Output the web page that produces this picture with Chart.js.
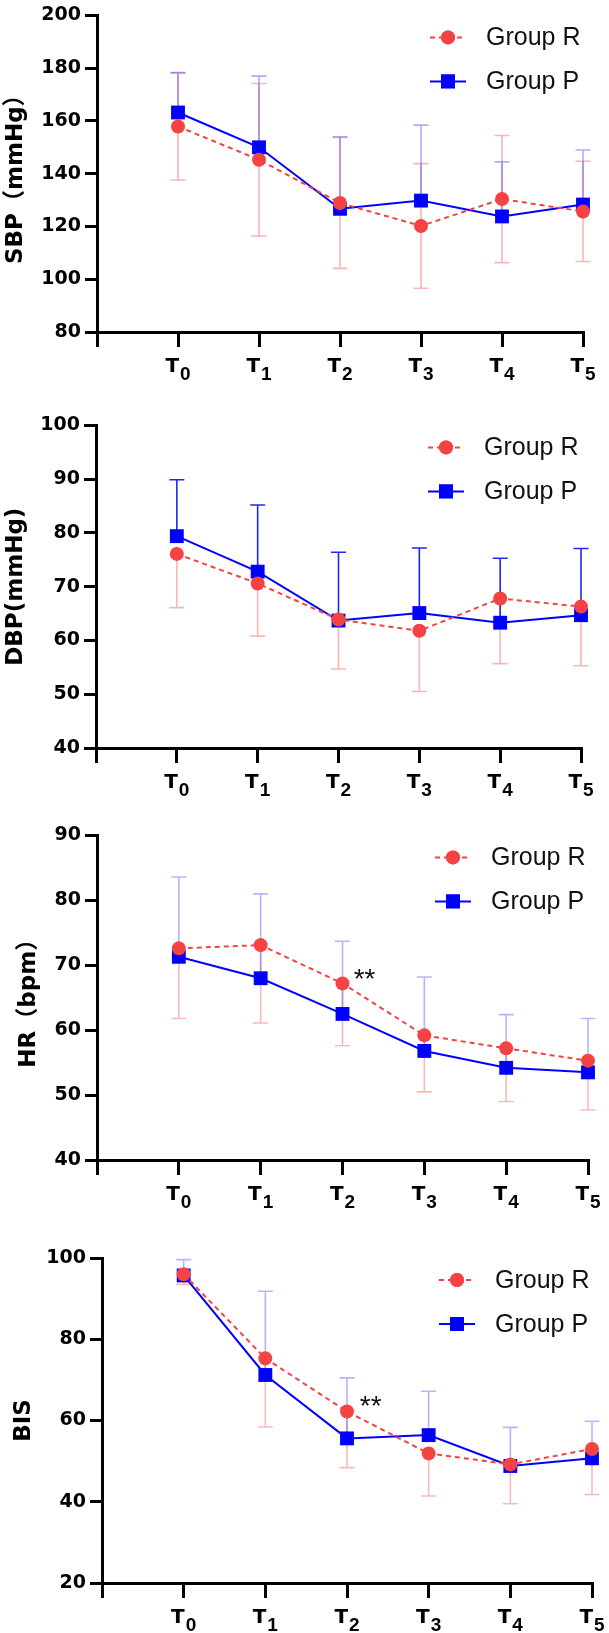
<!DOCTYPE html>
<html>
<head>
<meta charset="utf-8">
<script src="https://cdn.jsdelivr.net/npm/chart.js@4.4.0/dist/chart.umd.min.js"></script>
<style>
html,body{margin:0;padding:0;background:#fff;width:609px;height:1633px;overflow:hidden;}
.p{position:absolute;left:0;width:609px;}
canvas{display:block;}
</style>
</head>
<body>
<div class="p" style="top:0px"><canvas id="c0" width="609" height="410"></canvas></div>
<div class="p" style="top:410px"><canvas id="c1" width="609" height="410"></canvas></div>
<div class="p" style="top:820px"><canvas id="c2" width="609" height="410"></canvas></div>
<div class="p" style="top:1230px"><canvas id="c3" width="609" height="403"></canvas></div>
<script>
// ---------------- data ----------------
const timeLabels = ['T0', 'T1', 'T2', 'T3', 'T4', 'T5'];
const seriesNames = ['Group R', 'Group P'];

const sbpR   = [157.9, 145.3, 128.9, 120.2, 130.4, 125.7];
const sbpRsd = [20.3, 28.9, 24.8, 23.6, 24.1, 19.0];
const sbpP   = [163.2, 150.0, 126.7, 129.8, 123.8, 128.3];
const sbpPsd = [15.1, 27.0, 27.3, 28.6, 20.7, 20.7];

const dbpR   = [76.1, 70.6, 63.9, 61.8, 67.8, 66.3];
const dbpRsd = [10.0, 9.8, 9.2, 11.3, 12.1, 11.0];
const dbpP   = [79.4, 72.8, 63.7, 65.1, 63.3, 64.7];
const dbpPsd = [10.5, 12.4, 12.7, 12.1, 12.0, 12.4];

const hrR   = [72.6, 73.1, 67.2, 59.2, 57.2, 55.3];
const hrRsd = [10.8, 12.0, 9.6, 8.7, 8.2, 7.6];
const hrP   = [71.3, 68.0, 62.5, 56.8, 54.2, 53.5];
const hrPsd = [12.3, 13.0, 11.2, 11.4, 8.2, 8.3];

const bisR   = [96.0, 75.3, 62.2, 51.9, 49.2, 53.0];
const bisRsd = [2.5, 16.9, 13.8, 10.5, 9.7, 11.2];
const bisP   = [95.7, 71.2, 55.6, 56.4, 48.8, 50.7];
const bisPsd = [3.9, 20.6, 14.9, 10.8, 9.5, 9.1];

const yTitles = ['SBP（mmHg）', 'DBP(mmHg)', 'HR（bpm）', 'BIS'];
const yMins  = [80, 40, 40, 20];
const yMaxs  = [200, 100, 90, 100];
const ySteps = [20, 10, 10, 20];

// significance marks: panel index, x position (time index), y value
const markPanel = [2, 3];
const markX = [2.27, 2.29];
const markY = [68.8, 65.0];
const markText = ['**', '**'];

// ---------------- style ----------------
const FONT = "'Liberation Sans', Arial, 'Noto Sans CJK SC', sans-serif";
const BOLDFONT = "'DejaVu Sans', 'Noto Sans CJK SC', sans-serif";
const RED = 'rgb(245,66,66)';
const BLUE = 'rgb(0,0,255)';

const panelStyle = [
  {padTop:10, xH:78, yW:97,  padRight:26, titlePad:2,  rDir:'both', pDir:'up', rErr:'rgba(245,90,90,0.45)', pErr:'rgba(70,70,255,0.45)'},
  {padTop:15, xH:72, yW:96,  padRight:28, titlePad:2,  rDir:'down', pDir:'up', rErr:'rgba(245,90,90,0.45)', pErr:'rgba(25,25,240,0.95)'},
  {padTop:14, xH:70, yW:97,  padRight:21, titlePad:15, rDir:'down', pDir:'up', rErr:'rgba(245,90,90,0.42)', pErr:'rgba(70,70,255,0.40)'},
  {padTop:28, xH:50, yW:102, padRight:17, titlePad:10, rDir:'down', pDir:'up', rErr:'rgba(245,90,90,0.42)', pErr:'rgba(70,70,255,0.40)'}
];

const panelData = [
  [sbpR, sbpRsd, sbpP, sbpPsd],
  [dbpR, dbpRsd, dbpP, dbpPsd],
  [hrR, hrRsd, hrP, hrPsd],
  [bisR, bisRsd, bisP, bisPsd]
];

// ---------------- plugins ----------------
const errorBarPlugin = {
  id: 'errorBars',
  beforeDatasetsDraw(chart) {
    const ctx = chart.ctx, xs = chart.scales.x, ys = chart.scales.y;
    chart.data.datasets.forEach((ds) => {
      const e = ds._err;
      ctx.save();
      ctx.strokeStyle = e.color;
      ctx.lineWidth = 1.6;
      ds.data.forEach((pt, i) => {
        const sd = e.sd[i];
        const x = xs.getPixelForValue(pt.x);
        const y = ys.getPixelForValue(pt.y);
        const ends = [];
        if (e.dir === 'up' || e.dir === 'both') ends.push(ys.getPixelForValue(pt.y + sd));
        if (e.dir === 'down' || e.dir === 'both') ends.push(ys.getPixelForValue(pt.y - sd));
        ends.forEach((ye) => {
          ctx.beginPath();
          ctx.moveTo(x, y); ctx.lineTo(x, ye);
          ctx.moveTo(x - 7.5, ye); ctx.lineTo(x + 7.5, ye);
          ctx.stroke();
        });
      });
      ctx.restore();
    });
  }
};

const legendPlugin = {
  id: 'customLegend',
  afterDatasetsDraw(chart) {
    const ctx = chart.ctx, ca = chart.chartArea;
    chart.data.datasets.forEach((ds, k) => {
      const mx = ca.right - 135, my = ca.top + 22 + k * 44;
      ctx.save();
      ctx.strokeStyle = ds.borderColor;
      ctx.lineWidth = 2;
      ctx.setLineDash(ds.borderDash || []);
      ctx.beginPath(); ctx.moveTo(mx - 18, my); ctx.lineTo(mx + 18, my); ctx.stroke();
      ctx.setLineDash([]);
      ctx.fillStyle = ds.backgroundColor;
      Chart.helpers.drawPoint(ctx, {pointStyle: ds.pointStyle, radius: ds.pointRadius, borderWidth: 0, rotation: 0}, mx, my);
      ctx.fill();
      ctx.fillStyle = '#111';
      ctx.font = '25px ' + FONT;
      ctx.textAlign = 'left';
      ctx.textBaseline = 'middle';
      ctx.fillText(ds.label, ca.right - 97, my + 1);
      ctx.restore();
    });
  }
};

const xLabelPlugin = {
  id: 'xLabels',
  afterDraw(chart) {
    const xs = chart.scales.x, ca = chart.chartArea, ctx = chart.ctx;
    ctx.save();
    ctx.fillStyle = '#000';
    ctx.textBaseline = 'alphabetic';
    ctx.textAlign = 'left';
    const fMain = 'bold 20px ' + BOLDFONT, fSub = 'bold 19px ' + FONT;
    timeLabels.forEach((lab, i) => {
      const main = lab.slice(0, 1), sub = lab.slice(1);
      ctx.font = fMain; const wm = ctx.measureText(main).width;
      ctx.font = fSub; const ws = ctx.measureText(sub).width;
      const x0 = xs.getPixelForValue(i) - (wm + ws + 1) / 2;
      ctx.font = fMain; ctx.fillText(main, x0, ca.bottom + 40);
      ctx.font = fSub; ctx.fillText(sub, x0 + wm + 1, ca.bottom + 48);
    });
    ctx.restore();
  }
};

const markPlugin = {
  id: 'sigMarks',
  afterDatasetsDraw(chart) {
    const idx = chart.options._panel;
    const xs = chart.scales.x, ys = chart.scales.y, ctx = chart.ctx;
    markPanel.forEach((p, j) => {
      if (p !== idx) return;
      ctx.save();
      ctx.fillStyle = '#111';
      ctx.font = '28px ' + FONT;
      ctx.textAlign = 'center';
      ctx.textBaseline = 'alphabetic';
      ctx.fillText(markText[j], xs.getPixelForValue(markX[j]), ys.getPixelForValue(markY[j]) + 15);
      ctx.restore();
    });
  }
};

// ---------------- charts ----------------
function xy(arr) { return arr.map((v, i) => ({x: i, y: v})); }

for (let p = 0; p < 4; p++) {
  const st = panelStyle[p];
  const [r, rsd, pp, psd] = panelData[p];
  new Chart(document.getElementById('c' + p), {
    type: 'line',
    data: {
      datasets: [
        {
          label: seriesNames[0], data: xy(r),
          borderColor: RED, backgroundColor: RED, borderWidth: 2, borderDash: [5, 4],
          pointStyle: 'circle', pointRadius: 7, pointBorderWidth: 0,
          pointBackgroundColor: RED, tension: 0, clip: false,
          _err: {sd: rsd, dir: st.rDir, color: st.rErr}
        },
        {
          label: seriesNames[1], data: xy(pp),
          borderColor: BLUE, backgroundColor: BLUE, borderWidth: 2,
          pointStyle: 'rect', pointRadius: 9.8, pointBorderWidth: 0,
          pointBackgroundColor: BLUE, tension: 0, clip: false,
          _err: {sd: psd, dir: st.pDir, color: st.pErr}
        }
      ]
    },
    options: {
      _panel: p,
      responsive: false,
      animation: false,
      layout: {padding: {top: st.padTop, right: st.padRight, left: 0, bottom: 0}},
      plugins: {legend: {display: false}, tooltip: {enabled: false}},
      scales: {
        x: {
          type: 'linear', min: -1, max: 5,
          ticks: {display: false, stepSize: 1},
          grid: {display: true, drawOnChartArea: false, drawTicks: true, tickLength: 15, color: '#000', lineWidth: 3},
          border: {display: true, color: '#000', width: 3},
          afterFit(s) { s.height = st.xH; }
        },
        y: {
          min: yMins[p], max: yMaxs[p],
          ticks: {stepSize: ySteps[p], color: '#000', padding: 4, font: {family: BOLDFONT, size: 19, weight: 'bold'}},
          grid: {display: true, drawOnChartArea: false, drawTicks: true, tickLength: 12, color: '#000', lineWidth: 3},
          border: {display: true, color: '#000', width: 3},
          title: {display: true, text: yTitles[p], color: '#000', padding: {top: st.titlePad, bottom: 0},
                  font: {family: BOLDFONT, size: 23, weight: 'bold'}},
          afterFit(s) { s.width = st.yW; }
        }
      }
    },
    plugins: [errorBarPlugin, legendPlugin, xLabelPlugin, markPlugin]
  });
}
</script>
</body>
</html>
